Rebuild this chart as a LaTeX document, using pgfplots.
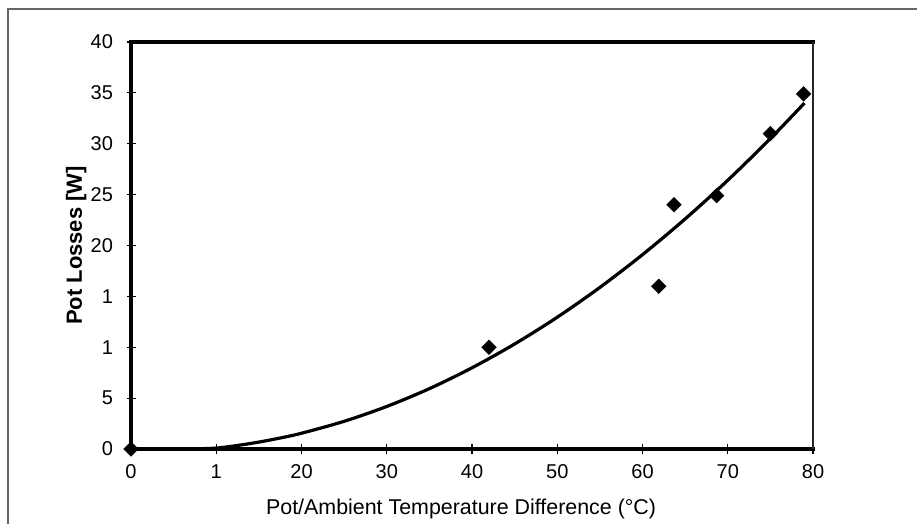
\documentclass[border=0pt]{standalone}
\usepackage{fontspec}
\setmainfont{Liberation Sans}
\usepackage{pgfplots}
\pgfplotsset{compat=1.18}
\begin{document}
\begin{tikzpicture}
\useasboundingbox (0pt,0pt) rectangle (917pt,524pt);
% outer chart frame (only left and top survive in the scan)
\draw[black!60, line width=1.2pt] (8pt,0pt) -- (8pt,515pt) -- (917pt,515pt);
\begin{axis}[
  at={(131pt,75pt)}, anchor=south west,
  width=682pt, height=407pt, scale only axis,
  xmin=0, xmax=80, ymin=0, ymax=40,
  xtick={0,10,...,80}, ytick={0,5,...,40},
  xticklabels={0,1,20,30,40,50,60,70,80},
  yticklabels={0,5,1,1,20,25,30,35,40},
  tick pos=left, tick align=center,
  major tick length=9pt,
  tick style={black, line width=1.2pt},
  tick label style={font=\fontsize{20}{24}\selectfont},
  xticklabel style={yshift=-8pt},
  yticklabel style={xshift=-10pt},
  xlabel={Pot/Ambient Temperature Difference (°C)},
  ylabel={Pot Losses [W]},
  xlabel style={font=\fontsize{21.4}{25}\selectfont,
    at={(axis description cs:0.484,-0.16)}, anchor=base},
  ylabel style={font=\bfseries\fontsize{22}{26}\selectfont,
    at={(axis description cs:-0.072,0.5)}, anchor=base},
  clip=false,
]
% heavy plot-area frame
\draw[line width=3.1pt, line cap=rect] (rel axis cs:1,0) -- (rel axis cs:0,0)
  -- (rel axis cs:0,1) -- (rel axis cs:1,1);
\draw[black!85, line width=2.2pt] (rel axis cs:1,1) -- (rel axis cs:1,0);
% trendline
\addplot[black, line width=3.2pt, smooth] coordinates {
  (7,0) (10,0.09) (12.5,0.35) (15,0.68) (17.5,1.08) (20,1.55) (25,2.72)
  (30,4.18) (35,5.93) (40,7.98) (45,10.32) (50,12.95) (55,15.88)
  (60,19.10) (65,22.61) (70,26.41) (75,30.51) (79,34.0)
};
% measured losses
\addplot[only marks, mark=square*, mark size=5.2pt,
  mark options={rotate=45, fill=black, draw=black}] coordinates {
  (0,0) (42,10) (61.9,16) (63.7,24) (68.7,24.9) (75,31) (78.9,34.9)
};
\end{axis}
\end{tikzpicture}
\end{document}
